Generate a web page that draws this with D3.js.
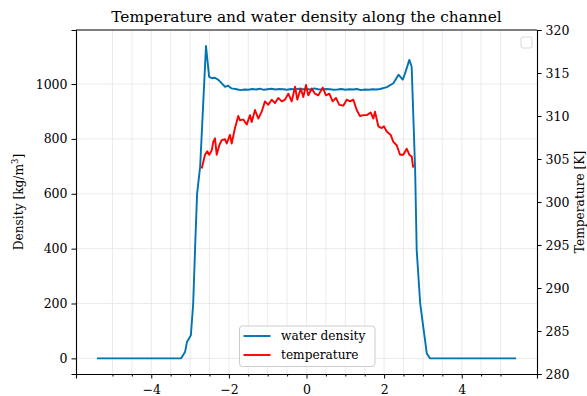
<!DOCTYPE html>
<html>
<head>
<meta charset="utf-8">
<script src="https://cdn.jsdelivr.net/npm/d3@7"></script>
<style>
    body { margin: 0; background: #fff; }
    svg text { font-family: "DejaVu Serif", serif; fill: #000; }
    .grid line { stroke: #e6e6e6; stroke-width: 0.8; }
</style>
</head>
<body>
<svg id="chart" width="587" height="396"></svg>
<script>
// water density along the channel (x, kg/m3)
const densityX = [-5.4, -3.23, -3.13, -3.08, -2.98, -2.92, -2.87, -2.82, -2.74, -2.59,
    -2.51, -2.44, -2.36, -2.27, -2.19, -2.10, -2.02, -1.93,
    -1.8, -1.7, -1.6, -1.5, -1.4, -1.3, -1.2, -1.1, -1.0, -0.9, -0.8, -0.7, -0.6, -0.5,
    -0.4, -0.3, -0.2, -0.1, 0.0, 0.1, 0.2, 0.3, 0.4, 0.5, 0.6, 0.7, 0.8, 0.9, 1.0,
    1.1, 1.2, 1.3, 1.4, 1.5, 1.6, 1.7, 1.8, 1.90,
    2.07, 2.24, 2.37, 2.48, 2.54, 2.65, 2.71, 2.80, 2.84, 2.93, 3.01, 3.10, 3.18, 5.4];
const densityY = [0, 0, 23, 60, 84, 200, 405, 600, 700, 1139,
    1027, 1021, 1023, 1015, 1003, 990, 994, 984,
    981, 978, 980, 979, 982, 980, 983, 979, 981, 983, 980, 982, 981, 979,
    982, 980, 983, 981, 982, 980, 984, 981, 980, 982, 981, 979, 980, 982, 979,
    981, 980, 982, 978, 980, 979, 981, 980, 982,
    989, 1003, 1034, 1016, 1039, 1088, 1063, 686, 394, 200, 114, 18, 0, 0];

// temperature along the channel (x, K)
const tempX = [-2.70, -2.616, -2.557, -2.505, -2.443, -2.402, -2.358, -2.314, -2.247, -2.186,
    -2.101, -2.057, -1.972, -1.928, -1.843, -1.758, -1.714, -1.629, -1.541, -1.456,
    -1.412, -1.327, -1.242, -1.155, -1.070, -0.985, -0.897, -0.812, -0.727, -0.639,
    -0.554, -0.469, -0.381, -0.296, -0.237, -0.149, -0.082, -0.013, 0.046, 0.134,
    0.219, 0.304, 0.418, 0.503, 0.588, 0.675, 0.760, 0.845, 0.948, 1.036,
    1.121, 1.206, 1.294, 1.379, 1.464, 1.552, 1.655, 1.722, 1.765, 1.851,
    1.938, 1.997, 2.067, 2.170, 2.237, 2.325, 2.410, 2.495, 2.582, 2.649,
    2.711, 2.75];
const tempY = [303.9, 305.5, 305.9, 305.5, 306.0, 307.0, 307.4, 305.5, 306.6, 307.2,
    307.3, 306.8, 307.8, 306.8, 308.6, 310.0, 309.5, 309.6, 309.0, 310.1,
    309.3, 310.7, 309.7, 310.5, 311.7, 311.3, 311.9, 311.5, 312.1, 311.7,
    311.9, 312.6, 311.7, 313.4, 311.9, 313.2, 312.2, 313.6, 312.4, 313.2,
    312.6, 312.4, 313.3, 312.4, 312.6, 311.7, 312.1, 311.3, 311.2, 311.9,
    311.7, 311.9, 310.7, 310.0, 310.1, 310.1, 310.4, 309.7, 310.5, 308.8,
    308.6, 308.8, 308.2, 307.8, 307.0, 306.6, 305.5, 305.5, 306.2, 305.5,
    305.3, 304.0];

const xMajorTicks = [-4, -2, 0, 2, 4];
const xMinorTicks = [-5, -4.5, -3.5, -3, -2.5, -1.5, -1, -0.5, 0.5, 1, 1.5, 2.5, 3, 3.5, 4.5, 5];
const densityTicks = [0, 200, 400, 600, 800, 1000];
const tempTicks = [280, 285, 290, 295, 300, 305, 310, 315, 320];

const M = { left: 76, right: 537, top: 30, bottom: 374 };
const BLUE = "#0173b2";
const RED = "#ff0000";

const svg = d3.select("#chart");
svg.append("rect").attr("width", 587).attr("height", 396).attr("fill", "#fff");

const x = d3.scaleLinear().domain([-5.94, 5.94]).range([M.left, M.right]);
const yD = d3.scaleLinear().domain([-57, 1197]).range([M.bottom, M.top]);
const yT = d3.scaleLinear().domain([280, 320]).range([M.bottom, M.top]);

// grid
const grid = svg.append("g").attr("class", "grid");
grid.selectAll(".vg").data(xMajorTicks.concat(xMinorTicks)).join("line")
    .attr("x1", d => x(d)).attr("x2", d => x(d))
    .attr("y1", M.top).attr("y2", M.bottom);
grid.selectAll(".hg").data(densityTicks).join("line")
    .attr("x1", M.left).attr("x2", M.right)
    .attr("y1", d => yD(d)).attr("y2", d => yD(d));

// lines
svg.append("clipPath").attr("id", "plotclip")
    .append("rect").attr("x", M.left).attr("y", M.top)
    .attr("width", M.right - M.left).attr("height", M.bottom - M.top);

const densLine = d3.line().x((d, i) => x(densityX[i])).y(d => yD(d));
const tempLine = d3.line().x((d, i) => x(tempX[i])).y(d => yT(d));

svg.append("path").datum(densityY)
    .attr("d", densLine)
    .attr("fill", "none").attr("stroke", BLUE).attr("stroke-width", 1.9)
    .attr("stroke-linejoin", "round").attr("clip-path", "url(#plotclip)");

svg.append("path").datum(tempY)
    .attr("d", tempLine)
    .attr("fill", "none").attr("stroke", RED).attr("stroke-width", 1.9)
    .attr("stroke-linejoin", "round").attr("clip-path", "url(#plotclip)");

// axes
const fmt = d => d < 0 ? "\u2212" + Math.abs(d) : String(d);

svg.append("g").attr("transform", `translate(0,${M.bottom})`)
    .call(d3.axisBottom(x).tickValues(xMajorTicks).tickFormat(fmt).tickSize(4.5).tickPadding(7));
svg.append("g").attr("transform", `translate(0,${M.bottom})`)
    .call(d3.axisBottom(x).tickValues(xMinorTicks).tickFormat("").tickSize(2.5))
    .select(".domain").remove();

svg.append("g").attr("transform", `translate(${M.left},0)`)
    .call(d3.axisLeft(yD).tickValues(densityTicks).tickFormat(d => String(d)).tickSize(4.5).tickPadding(4));

svg.append("g").attr("transform", `translate(${M.right},0)`)
    .call(d3.axisRight(yT).tickValues(tempTicks).tickFormat(d => String(d)).tickSize(4.5).tickPadding(4));

svg.selectAll(".tick text").attr("font-size", 12.5).attr("font-family", "DejaVu Serif");
svg.selectAll(".domain").attr("stroke", "#000").attr("stroke-width", 1.1);
svg.selectAll(".tick line").attr("stroke", "#000").attr("stroke-width", 1);

// top spine
svg.append("line").attr("x1", M.left).attr("x2", M.right)
    .attr("y1", M.top).attr("y2", M.top).attr("stroke", "#000").attr("stroke-width", 1.1);

// title and labels
svg.append("text").attr("x", (M.left + M.right) / 2).attr("y", 22)
    .attr("text-anchor", "middle").attr("font-size", 15.4)
    .text("Temperature and water density along the channel");

const dl = svg.append("text").attr("transform", `translate(23,${(M.top + M.bottom) / 2}) rotate(-90)`)
    .attr("text-anchor", "middle").attr("font-size", 12.2);
dl.append("tspan").text("Density [kg/m");
dl.append("tspan").attr("font-size", 8.5).attr("dy", -5).text("3");
dl.append("tspan").attr("dy", 5).text("]");

svg.append("text").attr("transform", `translate(584,${(M.top + M.bottom) / 2}) rotate(-90)`)
    .attr("text-anchor", "middle").attr("font-size", 12.2)
    .text("Temperature [K]");

// legend
const legend = svg.append("g").attr("transform", "translate(239.5,326)");
legend.append("rect").attr("width", 135.5).attr("height", 40.5).attr("rx", 3)
    .attr("fill", "#fff").attr("fill-opacity", 0.8).attr("stroke", "#cccccc").attr("stroke-width", 1);
const legendItems = [
    { label: "water density", color: BLUE },
    { label: "temperature", color: RED }
];
legendItems.forEach((item, i) => {
    const g = legend.append("g").attr("transform", `translate(0,${10 + i * 19})`);
    g.append("line").attr("x1", 4).attr("x2", 31).attr("stroke", item.color).attr("stroke-width", 1.9);
    g.append("text").attr("x", 41.5).attr("y", 0).attr("dy", "0.35em")
        .attr("font-size", 12.2).text(item.label);
});

// empty legend of the twin axis
svg.append("rect").attr("x", 521).attr("y", 37).attr("width", 11).attr("height", 11).attr("rx", 2)
    .attr("fill", "#fff").attr("stroke", "#d9d9d9").attr("stroke-width", 1);
</script>
</body>
</html>
